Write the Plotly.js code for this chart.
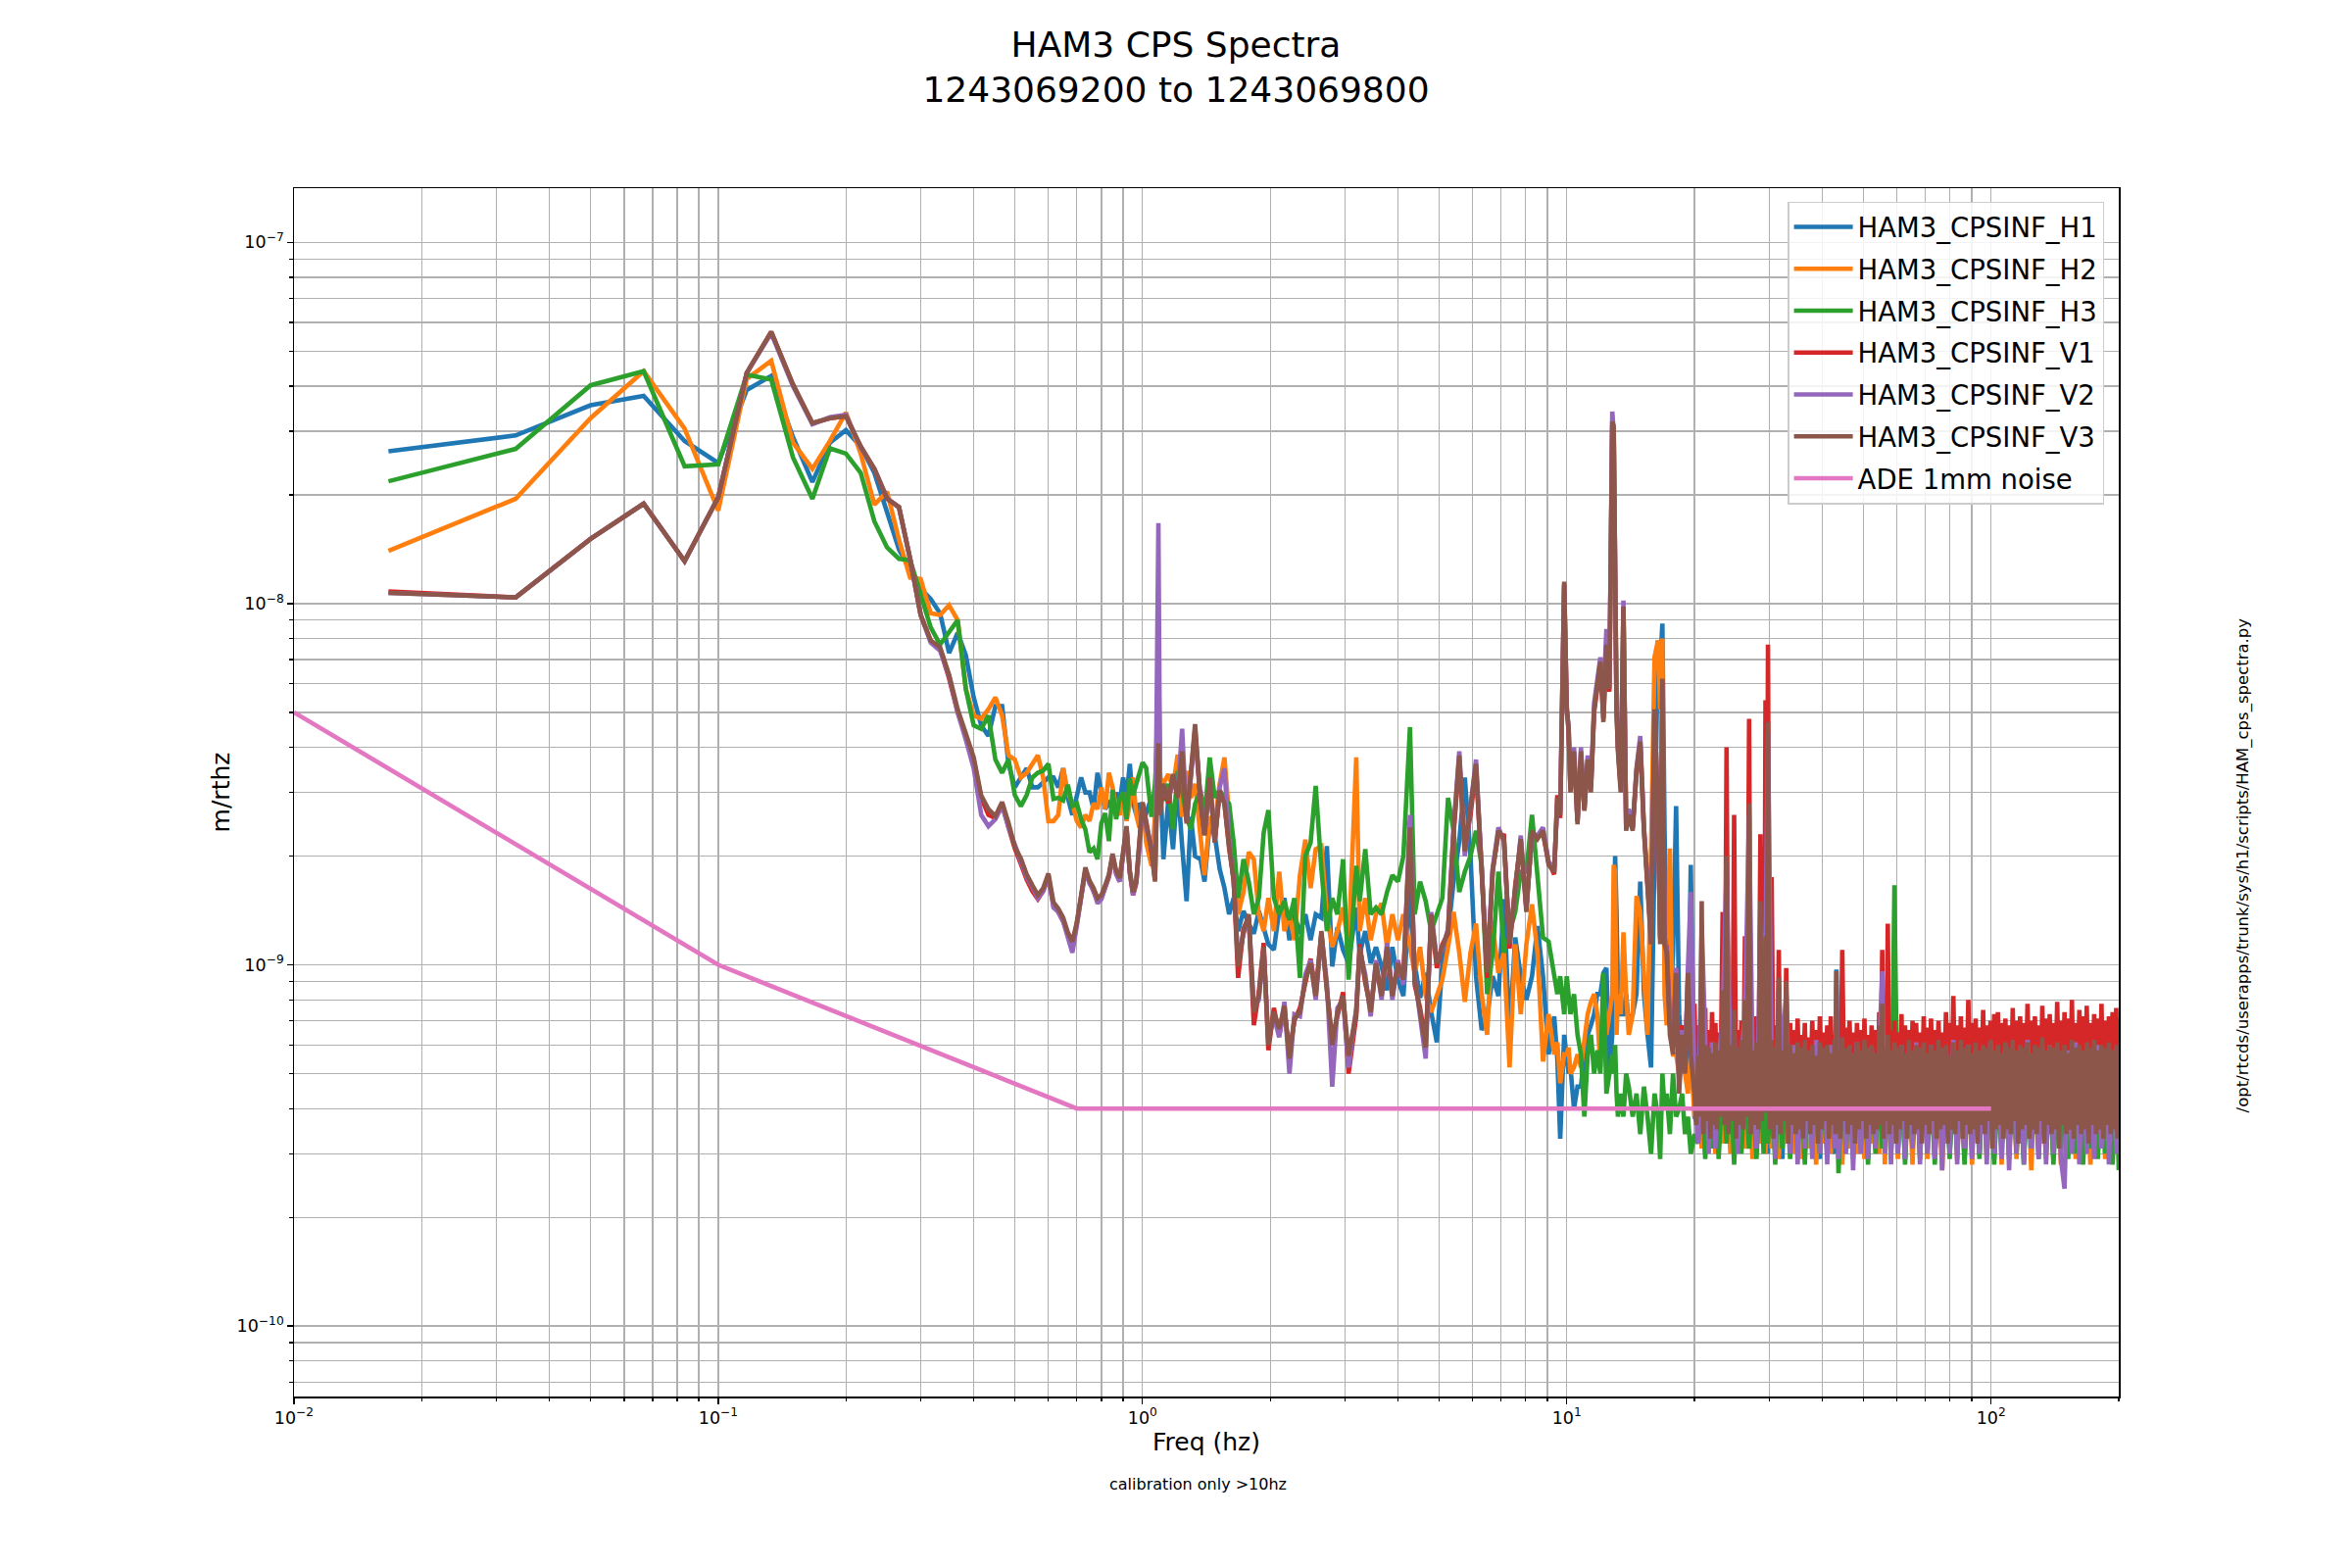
<!DOCTYPE html>
<html><head><meta charset="utf-8">
<script src="https://cdn.plot.ly/plotly-3.0.1.min.js"></script>
<style>html,body{margin:0;padding:0;background:#fff}#chart{width:2400px;height:1600px}</style>
</head><body><div id="chart"></div>
<script>
// All amplitude values are in units of 1e-10 m/rthz
const UNIT = 1e-10;

const freqLow = [0.0167,0.0333,0.05,0.0667,0.0833,0.1,0.1167,0.1333,0.15,0.1667,0.1833,0.2,0.2167,0.2333,0.25,0.2667,0.2833,0.3,0.3167,0.3333,
 0.35,0.3667,0.3833,0.4,0.4167,0.4333,0.45,0.4667,0.4833,0.5,0.5167,0.5333,0.55,0.5667,0.5833,0.6,0.6167,0.6333,0.65,0.6667,
 0.6833,0.7,0.7167,0.7333,0.75,0.7667,0.7833,0.8,0.8167,0.8333,0.85,0.8667,0.8833,0.9,0.9167,0.9333,0.95,0.9667,0.9833,1.0];

const freqMid = [1.02,1.05,1.07,1.09,1.10,1.12,1.15,1.18,1.21,1.24,1.27,1.30,1.33,1.37,1.40,1.44,1.48,1.52,1.56,1.60,1.64,1.68,1.73,1.78,1.83,1.88,1.93,1.98,
 2.04,2.10,2.16,2.22,2.28,2.35,2.42,2.49,2.56,2.64,2.72,2.80,2.88,2.97,3.06,3.19,3.25,3.35,3.45,3.55,3.66,3.77,3.88,4.00,4.12,4.27,4.38,4.51,4.65,4.79,4.94,
 5.09,5.25,5.41,5.58,5.75,5.93,6.11,6.30,6.49,6.69,6.90,7.11,7.33,7.56,7.79,8.03,8.28,8.53,8.79,9.06,9.34,9.50,9.65,9.86,
 10.0,10.1,10.2,10.4,10.6,10.8,11.0,11.2,11.4,11.6,11.8,12.0,12.2,12.4,12.6,12.8,12.9,13.0,13.1,13.2,13.4,13.6,13.8,14.0,14.3,14.6,14.9,15.2,15.5,15.8,16.1,16.4,16.6,16.8,17.0,17.2,17.5,17.8,18.1,18.4,18.7,19.0,19.3,19.6,20.0];

const freqHigh = [20.4,20.8,21.2,21.6,22.0,22.4,22.8,23.3,23.8,24.3, 24.8,25.3,25.8,26.3,26.9,27.4,28.0,28.6,29.1,29.4,
 29.8,30.4,31.0,31.6,32.2,32.9,33.6,34.3,35.0,35.7, 36.4,37.1,37.9,38.7,39.5,40.3,41.1,41.9,42.8,43.2,
 43.7,44.6,45.5,46.4,47.3,48.3,49.3,50.3,51.3,52.3, 53.4,54.5,55.4,56.2,57.1,58.1,59.2,60.3,61.5,62.7,
 64.0,65.3,66.6,68.0,69.4,70.8,72.2,73.7,75.2,76.7, 78.3,79.9,81.5,83.2,84.9,86.6,88.4,90.2,92.0,93.9,
 95.8,97.7,99.7,101.7,103.8,105.9,108.1,110.3,112.5,114.8, 117.1,119.5,121.9,124.4,126.9,129.5,132.1,134.8,137.5,140.3,
 143.2,146.1,149.0,152.0,155.1,158.3,161.5,164.8,168.1,171.5, 175.0,178.5,182.1,185.8,189.6,193.4,197.3,200.0];

// finer frequency grid above 20 Hz used for the V1 and V3 channels
const freqHighDense = [20.2,20.4,20.6,20.8,21.0,21.2,21.4,21.6,21.8,22.0,22.2,22.4,22.6,22.8,23.05,23.3,23.55,23.8,24.05,24.3,
 24.55,24.8,25.05,25.3,25.55,25.8,26.05,26.3,26.6,26.9,27.15,27.4,27.7,28.0,28.3,28.6,28.85,29.1,29.25,29.4,
 29.6,29.8,30.1,30.4,30.7,31.0,31.3,31.6,31.9,32.2,32.55,32.9,33.25,33.6,33.95,34.3,34.65,35.0,35.35,35.7,
 36.05,36.4,36.75,37.1,37.5,37.9,38.3,38.7,39.1,39.5,39.9,40.3,40.7,41.1,41.5,41.9,42.35,42.8,43.0,43.2,
 43.45,43.7,44.15,44.6,45.05,45.5,45.95,46.4,46.85,47.3,47.8,48.3,48.8,49.3,49.8,50.3,50.8,51.3,51.8,52.3,
 52.85,53.4,53.95,54.5,54.95,55.4,55.8,56.2,56.65,57.1,57.6,58.1,58.65,59.2,59.75,60.3,60.9,61.5,62.1,62.7,
 63.35,64.0,64.65,65.3,65.95,66.6,67.3,68.0,68.7,69.4,70.1,70.8,71.5,72.2,72.95,73.7,74.45,75.2,75.95,76.7,
 77.5,78.3,79.1,79.9,80.7,81.5,82.35,83.2,84.05,84.9,85.75,86.6,87.5,88.4,89.3,90.2,91.1,92.0,92.95,93.9,
 94.85,95.8,96.75,97.7,98.7,99.7,100.7,101.7,102.75,103.8,104.85,105.9,107.0,108.1,109.2,110.3,111.4,112.5,113.65,114.8,
 115.95,117.1,118.3,119.5,120.7,121.9,123.15,124.4,125.65,126.9,128.2,129.5,130.8,132.1,133.45,134.8,136.15,137.5,138.9,140.3,
 141.75,143.2,144.65,146.1,147.55,149.0,150.5,152.0,153.55,155.1,156.7,158.3,159.9,161.5,163.15,164.8,166.45,168.1,169.8,171.5,
 173.25,175.0,176.75,178.5,180.3,182.1,183.95,185.8,187.7,189.6,191.5,193.4,195.35,197.3,198.65,200.0];

// HAM3_CPSINF_H1
const h1Low = [264,292,354,376,282,245,390,427,289,217,279,302,272,230,179,141,124,110,103,94,73,83,
 72,55,46,43,52,52,36,31,33,35,31,31,32,33,33,31,35,29,26,29,33,30,30,27,34,30,27,28,27,30,28,33,29,36,28,26,28,27];
const h1Mid = [26.3,29.1,25.7,72.8,34.4,19.6,28.5,20.9,31.7,21.3,15,25.7,20,19.6,17,24.6,22.8,18.4,16.3,13.8,15.3,12.4,14.1,13,12.2,14.1,12.7,11.4,
 11,14.1,15.3,11.7,13.8,12.2,13.8,11.7,13.8,13.5,21.3,9.9,12.7,11,10.1,14.4,10.7,12.4,10.1,11.2,9.9,8.5,11.2,9.1,8.2,16,10.1,8.1,9.5,7.4,6.1,
 10.1,12.2,17,22,33,20,9.3,6.6,7.2,9.3,8.2,15.2,6.4,11.9,9.3,8.0,9.3,12.8,9.3,5.65,7.2,5.5,3.3,6.4,
 5.65,5.0,5.2,4.0,4.6,4.6,5.65,6.4,6.8,7.3,8.3,8.3,9.5,9.8,5.0,6.4,10.8,20,14,8.3,7.3,7.3,8.3,6.8,7.3,8.3,17,8.3,6.4,5.2,20.6,79,66,88,23.5,10.8,7.3,10.8,27.5,7.3,5.65,6.4,5.0,18.9,3.8];
const h1High = [3.6,4.8,3.0,5.0,3.3,4.6,3.1,4.9,3.4,5.1, 3.0,4.7,3.2,5.0,3.5,4.6,3.1,4.9,3.3,4.5,
 3.0,5.2,3.2,4.8,2.9,5.0,3.4,4.7,3.1,5.1, 3.0,4.6,3.3,4.9,2.9,5.0,3.2,4.7,3.0,9.7,
 3.1,4.8,3.3,5.0,3.0,4.6,3.2,4.9,2.9,5.1, 3.1,4.7,3.4,4.8,8.4,3.0,5.0,3.2,4.7,2.9,
 4.9,3.1,5.0,3.0,4.6,3.3,4.9,2.9,5.1,3.1, 4.8,3.0,4.7,3.2,5.0,2.9,4.8,3.1,4.6,3.0,
 5.0,3.2,4.8,2.9,4.9,3.1,4.7,3.0,5.0,3.2, 4.8,2.9,4.6,3.1,5.0,3.0,4.8,3.2,4.7,2.9,
 5.0,3.1,4.8,3.0,4.6,3.2,4.9,2.9,4.8,3.1, 5.0,3.0,4.7,3.1,4.9,3.0,4.6,3.2];

// HAM3_CPSINF_H2
const h2Low = [140,195,326,440,305,181,419,470,279,236,282,338,260,188,204,150,118,117,94,93,99,90,
 58,49,48,51,55,49,38,37,33,34,36,38,33,25,25,26,35,30,28,25,24,26,25,28,27,31,27,34,31,27,26,30,25,28,33,26,24,28];
const h2Mid = [21.8,18.8,25.7,28.5,33,31.7,33.7,31,38.2,25.7,34.4,29,31.7,21.8,17.7,25.7,24.6,31.7,37.5,25.7,20.9,13.8,15.9,20.5,19.6,13.8,12.4,15.3,
 12.4,18.1,12.4,13.8,11.7,17.7,22.2,16.3,20.9,21.3,13.8,11.2,12.4,14.4,11.2,37.5,12.4,15.3,11.7,13.8,14.8,11.2,13.8,11.7,13.8,11.2,9.5,11.2,8.2,7.4,8.2,
 9.1,11.2,14,10.8,7.9,10.8,13,8.3,6.4,12.8,9.5,10.8,5.2,11.4,7.3,11.4,14.7,10.8,5.4,7.3,5.65,6.1,4.7,5.65,
 5.65,5.9,5.0,5.2,5.65,5.2,6.1,7.3,7.9,8.3,7.3,5.2,8.3,6.4,7.3,8.3,18.9,18.1,6.4,8.3,7.3,12.3,8.3,6.4,7.3,15.5,14,9.5,6.4,20.6,71,79,51,80,8.3,6.8,21,5.65,5.65,5.0,5.65,5.0,4.4,5.65,3.8];
const h2High = [4.8,3.1,5.0,3.3,4.6,3.0,4.9,3.2,5.1,3.0, 4.7,3.4,5.0,3.1,4.8,2.9,5.1,3.2,4.6,3.0,
 4.9,3.1,5.0,2.9,4.7,3.2,4.9,3.0,5.1,2.9, 4.8,3.1,5.0,2.8,4.7,3.2,4.9,3.0,5.0,3.1,
 4.6,2.8,5.0,3.1,4.8,3.0,5.1,2.9,4.7,3.2, 4.9,3.0,5.0,2.8,4.8,3.1,5.0,2.9,4.7,3.1,
 4.9,2.8,5.0,3.0,4.8,2.9,5.1,3.0,4.6,2.7, 4.9,3.1,5.0,2.9,4.8,3.0,4.7,2.8,5.0,3.1,
 4.9,2.9,4.8,3.0,5.0,2.8,4.7,3.1,4.9,2.9, 5.0,3.0,4.8,2.7,4.9,3.1,5.0,2.9,4.7,3.0,
 4.9,2.8,5.0,3.1,4.8,2.9,4.9,3.0,4.7,2.8, 5.0,3.1,4.8,2.9,4.9,3.0,4.7,3.1];

// HAM3_CPSINF_H3
const h3Low = [218,268,402,440,240,243,430,417,254,195,269,260,230,169,143,133,132,105,86,77,83.5,90,
 58,46,45,49,37,34,37,29.5,27.5,29.5,33,34,34.5,36,28.8,29,28.5,31.5,27.5,28,25.3,23.7,20.5,21,19.6,24.7,26.3,22,30.5,25.3,28.8,30,25.3,32.8,29.5,31.5,34.3,36.3];
const h3Mid = [35.1,25.7,31.7,47,30.4,28.5,31.7,23.7,34.4,30.4,25.7,23.7,27.9,30.4,25.7,37.5,29,30.4,29,27.9,21.8,15.3,19.6,17,13.8,15.3,23.2,26.8,
 15.3,13.8,15,13.3,15.3,9.2,20,21.8,31.3,18.4,12.4,15.3,13.8,19.6,9.1,18.8,15,20.9,13.8,14.4,13.8,15.9,17.7,17,20,45.5,13.8,17,15,12.4,13.8,
 15.3,29,23.5,15.9,18.1,20,23.5,18.9,8.3,10.8,18.1,10.8,12.3,14,18.1,18.1,26,18.1,11.9,11.6,9.5,8.3,9.3,7.3,
 9.3,8.3,7.3,8.3,6.4,5.65,3.8,5.65,6.4,5.0,5.8,5.0,9.5,4.4,5.0,5.65,5.0,6.0,4.4,3.8,4.4,3.8,5.0,4.6,3.8,4.4,3.4,4.6,3.8,3.0,4.4,3.8,2.9,5.0,4.0,4.4,3.4,5.0,3.8,4.0,4.4,3.4,3.8,3.0,3.4];
const h3High = [3.2,4.9,2.9,5.0,3.1,4.6,2.9,4.8,3.2,5.0, 2.8,4.7,3.0,4.9,3.1,4.6,2.9,5.0,3.0,4.8,
 3.2,4.7,2.8,5.0,3.1,4.8,2.9,4.9,3.0,4.7, 2.8,5.0,3.1,4.8,3.0,4.6,2.9,5.0,3.1,4.8,
 2.65,4.9,3.0,4.7,2.9,5.0,3.1,4.6,2.8,4.9, 3.0,4.8,3.1,4.7,5.2,2.9,16.6,3.0,4.9,2.8,
 4.7,3.1,5.0,2.9,4.8,3.0,4.6,2.8,4.9,3.1, 4.7,2.9,5.0,3.0,4.8,2.8,4.9,3.1,4.6,2.9,
 5.0,3.0,4.8,2.8,4.7,3.1,4.9,2.9,4.8,3.0, 4.6,2.8,5.0,3.1,4.7,2.9,4.9,3.0,4.8,2.8,
 4.6,3.1,4.9,2.9,4.8,3.0,4.7,2.8,5.0,3.1, 4.8,2.9,4.9,3.0,4.7,2.8,4.9,2.7];

// HAM3_CPSINF_V1
const v1Low = [108,104,151,189,131,197,435,565,404,316,326,330,272,236,195,185,133,93,79,75,62,50,
 43,37,29,26,25.5,28,24,21,19,17.2,16,15.2,16,17.5,14.6,14,13.2,12,11.2,13,15.4,18.2,17,16,15,15.3,16.3,17.5,20,18,17,20,23.8,18,15.6,16.8,21,28];
const v1Mid = [25,20.5,17.2,45,27,31,28,33,29.5,38,25,34,45,28,23,32.5,22,30,28,21,17.3,9.2,12.6,13.5,6.8,8.4,11.5,5.8,
 7.6,6.4,7.5,5.7,7.0,7.6,8.9,10.4,8.4,12.2,8.5,6.2,7.2,8.4,5.0,7.2,11.4,8.9,7.6,9.8,8.4,11.0,8.5,9.8,9.3,25,8.8,7.6,6.1,13.5,9.8,
 11.4,12.2,23,37,21,26,35,18.5,9.2,18.4,23,22.8,11.1,16.6,22,14.4,23,22.6,23,19.3,17.8,29.5,25.5,113,
 52,44,31,38,25,38,27,36,31,50,60,68,48,76,57,310,300,74,50,40,31,96,24,25.5,24,34,41,24,16.3,11.8,50,27,11.8,61,11.8,11.2,6.8,6.0,9.8,4.8,6.8,5.3,9.2,6.2,7.8];
const v1HighDense = [4.4,6.8, 4.2,7.0, 4.6,7.6, 4.1,6.6, 4.5,7.4, 4.0,6.9, 4.4,6.5, 4.7,14, 4.3,40, 4.6,6.8,
 4.2,26, 4.5,6.6, 4.1,7.0, 4.4,12, 4.8,48, 4.3,6.7, 4.6,7.2, 4.2,23, 5.0,20, 8.0,54,
 6.0,77, 4.8,17.5, 4.4,6.8, 4.1,11, 4.5,6.5, 4.3,9.8, 4.6,6.9, 4.0,6.6, 4.4,7.1, 4.2,6.4,
 4.7,6.9, 4.1,6.3, 4.5,7.0, 4.3,6.6, 4.6,7.2, 4.0,6.5, 4.4,6.8, 4.2,7.2, 4.5,6.4, 4.1,6.9,
 4.6,6.6, 4.3,11, 4.5,6.7, 4.1,7.0, 4.4,6.5, 4.2,6.9, 4.6,6.6, 4.0,7.1, 4.4,6.4, 4.3,6.8,
 4.5,6.6, 4.1,7.4, 4.6,11, 4.2,6.7, 4.4,13, 4.3,6.6, 4.6,7.0, 4.1,6.5, 4.5,7.3, 4.2,6.8,
 4.4,6.6, 4.0,7.0, 4.6,6.9, 4.3,6.5, 4.5,7.2, 4.1,6.7, 4.4,7.1, 4.2,6.6, 4.6,7.0, 4.3,6.5,
 4.5,7.4, 4.1,6.9, 4.4,8.2, 4.2,6.8, 4.6,7.2, 4.3,6.7, 4.5,8.0, 4.1,6.9, 4.4,7.1, 4.2,6.7,
 4.6,7.5, 4.3,6.8, 4.5,7.0, 4.0,7.3, 4.4,7.4, 4.2,6.9, 4.6,7.1, 4.3,6.8, 4.5,7.6, 4.1,7.0,
 4.4,7.2, 4.2,6.9, 4.6,7.8, 4.3,7.0, 4.5,7.2, 4.1,6.8, 4.4,7.7, 4.2,7.1, 4.6,7.3, 4.3,6.9,
 4.5,7.9, 4.1,7.0, 4.4,7.4, 4.2,7.1, 4.6,8.0, 4.3,6.9, 4.5,7.5, 4.1,7.2, 4.4,7.7, 4.2,6.9,
 4.6,7.3, 4.3,7.1, 4.5,7.8, 4.1,7.0, 4.4,7.2, 4.2,7.4, 4.6,7.6, 4.3,7.1];

// HAM3_CPSINF_V2
const v2Low = [107,104,151,189,131,197,435,560,400,314,328,333,270,236,196,184,133,93,78,74,63,50,
 42,35,26,24.2,25.3,27.5,24,21.5,19.5,17.5,16.4,15.3,16,17.6,14.4,14,13.2,12,10.8,12.8,15.4,18.3,16.8,16.1,14.8,15.2,16.4,17.6,20,17.8,17,20.1,24,18,15.6,17,21,28];
const v2Mid = [24,21,17.5,167,30,30,29,32,30,45,25,33,44,29,23,32,22,31,35,22,17,10.2,12.2,13.5,7.6,8.0,11,6.2,
 7.2,6.3,7.9,5.0,7.3,7.2,9.4,10.3,8.0,12.1,8.9,4.6,7.6,8.0,5.2,7.6,11,9.4,7.2,10.3,8.0,11.5,8.0,10.3,8.8,26,9.3,7.2,5.5,14,10.3,
 11,12.6,24,39,20,27,37,18.5,9.8,18.5,24,22,11.8,16,22.8,14.3,23,22.8,24,19.3,18.5,28,26.5,112,
 50,46,31,40,25,40,27,38,31,53,63,71,55,85,60,340,300,78,52,40,31,102,24,27,24,35,43,24,16,12,50,27,12,60,12,11,6.8,5.9,9.8,4.6,6.6,5.2,9.8,15.9,4.6];
const v2High = [3.2,13,5.8,3.0,6.1,3.1,5.5,7.0,19,5.4, 6.8,3.0,5.6,7.2,26,5.5,3.1,13,9,11,
 44,5.2,2.9,8.5,5.6,8.4,3.0,6.0,2.8,5.9, 3.1,5.4,2.9,6.2,3.0,5.6,2.8,6.0,3.1,8.8,
 2.9,5.8,3.0,5.5,2.7,6.1,3.0,5.6,2.9,5.9, 3.1,6.2,9.6,3.0,5.8,2.8,5.6,3.0,6.0,2.9,
 5.5,3.1,6.1,2.8,5.7,3.0,6.0,2.9,5.4,2.7, 5.9,3.0,6.2,2.8,5.6,3.1,6.0,2.9,5.8,3.0,
 5.5,2.8,6.1,3.0,5.7,2.9,6.0,2.7,5.8,3.0, 5.6,2.8,6.2,3.1,5.9,2.9,5.5,2.8,6.0,3.0,
 5.7,2.9,2.4,5.8,3.0,6.1,2.8,5.6,3.0,5.9, 2.9,6.0,3.1,5.5,2.8,5.8,3.0,5.6];

// HAM3_CPSINF_V3
const v3Low = [107,104,151,189,131,197,435,565,404,316,326,330,272,236,195,185,133,93,79,75.7,63.5,51,
 43.7,37.5,29.4,27,25.8,28.2,24.7,21.2,19.7,17.8,16.6,15.6,16.3,17.9,14.9,14.3,13.5,12.3,11.6,13.1,15.6,18.6,17.1,16.3,15.3,15.6,16.6,17.8,20.3,18.2,17.4,20.3,24.2,18.2,15.9,17.1,21.2,28.2];
const v3Mid = [24.6,20.9,17,41,26,31.7,28.5,33.7,29,39,24.6,34.4,46.4,28.5,22.8,33,21.8,30.4,27.9,21.3,17,9.9,12.4,13.8,7.4,8.2,11.2,6.0,
 7.4,6.65,7.7,5.5,7.1,7.4,9.1,10.1,8.2,12.4,8.7,6.0,7.4,8.2,5.6,7.4,11.2,9.1,7.4,10.1,8.2,11.2,8.2,10.1,9.1,24,9.1,7.4,5.9,13.8,10.1,
 11.2,12.4,23.5,38,20.6,26.7,36,18.1,9.5,18.1,23.5,22.3,11.4,16.3,22.3,14,23.5,22.3,23.5,18.9,18.1,29,26,115,
 51,45,30,39,24.5,39,26.7,37,30,51,61,69,47,77,58,319,310,75,51,39,30,98,23.5,26,23.5,34.6,41.5,23.5,15.9,11.4,51,26.7,11.4,62,11.4,10.8,6.4,5.65,9.5,4.4,6.4,5.0,9.5,5.65,4.4];
const v3HighDense = [3.6,5.6, 3.8,15, 3.4,6.0, 3.7,5.9, 3.3,5.7, 3.6,6.1, 3.5,5.8, 3.8,8.5, 3.6,20, 3.4,6.0,
 3.7,7.5, 3.3,5.9, 3.6,6.2, 3.5,8.0, 3.8,28, 3.4,5.8, 3.6,6.1, 3.5,15, 3.7,10, 6.0,12,
 3.9,47, 3.5,6.2, 3.3,5.9, 3.6,9.2, 3.4,5.8, 3.7,9.0, 3.2,6.0, 3.6,5.7, 3.4,6.1, 3.5,5.9,
 3.3,6.2, 3.7,5.8, 3.4,6.0, 3.6,5.6, 3.2,6.1, 3.5,5.9, 3.7,6.0, 3.3,5.7, 3.6,6.2, 3.4,9.6,
 3.5,5.8, 3.3,6.3, 3.7,5.9, 3.4,6.0, 3.6,5.7, 3.2,6.1, 3.5,5.8, 3.7,6.2, 3.3,5.9, 3.6,6.0,
 3.4,5.7, 3.5,6.8, 3.6,7.8, 3.3,5.9, 3.7,6.4, 3.4,5.8, 3.6,6.1, 3.2,5.9, 3.5,6.0, 3.7,5.7,
 3.3,6.2, 3.6,5.8, 3.4,6.0, 3.5,5.9, 3.2,6.1, 3.6,5.7, 3.4,6.0, 3.7,5.8, 3.3,6.2, 3.5,5.9,
 3.6,6.0, 3.2,5.6, 3.5,6.1, 3.4,5.8, 3.7,6.2, 3.3,5.9, 3.6,6.0, 3.4,5.7, 3.5,6.1, 3.2,5.8,
 3.6,6.0, 3.4,5.9, 3.7,6.2, 3.1,5.8, 3.5,6.0, 3.6,5.7, 3.3,6.1, 3.5,5.9, 3.4,6.2, 3.7,5.8,
 3.2,6.0, 3.5,5.9, 3.6,6.1, 3.3,5.7, 3.5,6.0, 3.4,5.9, 3.7,6.3, 3.2,5.8, 3.6,6.0, 3.4,5.9,
 3.5,6.1, 3.1,5.8, 3.6,6.0, 3.4,5.7, 3.5,6.2, 3.3,5.9, 3.6,6.0, 3.4,5.8, 3.5,6.1, 3.2,5.9,
 3.6,6.2, 3.4,5.8, 3.5,6.0, 3.3,5.9, 3.6,6.1, 3.4,5.8, 3.5,6.0, 3.3,5.9];

// ADE 1mm noise
const adeFreq = [0.01, 0.1, 0.7, 100];
const adeVals = [50, 10, 4, 4];

const seriesNames = ['HAM3_CPSINF_H1','HAM3_CPSINF_H2','HAM3_CPSINF_H3','HAM3_CPSINF_V1','HAM3_CPSINF_V2','HAM3_CPSINF_V3'];
const seriesColors = ['#1f77b4','#ff7f0e','#2ca02c','#d62728','#9467bd','#8c564b'];
const freqStd = freqLow.concat(freqMid, freqHigh);
const freqDense = freqLow.concat(freqMid, freqHighDense);
const seriesX = [freqStd, freqStd, freqStd, freqDense, freqStd, freqDense];
const seriesParts = [[h1Low,h1Mid,h1High],[h2Low,h2Mid,h2High],[h3Low,h3Mid,h3High],[v1Low,v1Mid,v1HighDense],[v2Low,v2Mid,v2High],[v3Low,v3Mid,v3HighDense]];

const FONT = 'DejaVu Sans, Verdana, sans-serif';
const LW = 4.6;

const traces = seriesNames.map((nm, i) => ({
  x: seriesX[i],
  y: seriesParts[i][0].concat(seriesParts[i][1], seriesParts[i][2]).map(v => v * UNIT),
  type: 'scatter', mode: 'lines', name: nm, legendgroup: nm,
  line: {color: seriesColors[i], width: LW}
}));
traces.push({
  x: adeFreq, y: adeVals.map(v => v * UNIT), type: 'scatter', mode: 'lines',
  name: 'ADE 1mm noise', legendgroup: 'ade', line: {color: '#e377c2', width: LW}
});

const gridCol = '#b0b0b0';
const axisCommon = {
  type: 'log', dtick: 1, exponentformat: 'power', showexponent: 'all',
  showgrid: true, gridcolor: gridCol, gridwidth: 1.3,
  showline: true, linecolor: '#000', linewidth: 1.5, mirror: true,
  ticks: 'outside', ticklen: 6, tickwidth: 1.3, tickcolor: '#000',
  tickfont: {family: FONT, size: 14, color: '#000'},
  minor: {dtick: 'D1', showgrid: true, gridcolor: gridCol, gridwidth: 1.3, ticks: 'outside', ticklen: 3.5, tickcolor: '#000'},
  zeroline: false
};

const layout = {
  width: 2400, height: 1600,
  paper_bgcolor: '#fff', plot_bgcolor: '#fff',
  margin: {l: 300, r: 238, t: 192, b: 175},
  font: {family: FONT, color: '#000'},
  title: {text: 'HAM3 CPS Spectra<br>1243069200 to 1243069800', font: {family: FONT, size: 36, color: '#000'},
          x: 0.5, xref: 'container', y: 0.964, yref: 'container', yanchor: 'top'},
  xaxis: Object.assign({}, axisCommon, {range: [-2, 2.30103],
          labelalias: {'1': '10<sup>0</sup>', '10': '10<sup>1</sup>'},
          title: {text: 'Freq (hz)', font: {family: FONT, size: 25}, standoff: 0}}),
  yaxis: Object.assign({}, axisCommon, {range: [-10.195, -6.85],
          title: {text: 'm/rthz', font: {family: FONT, size: 25}, standoff: 0}}),
  showlegend: true,
  legend: {x: 0.992, xanchor: 'right', y: 0.989, yanchor: 'top',
           bgcolor: 'rgba(255,255,255,0.85)', bordercolor: '#cccccc', borderwidth: 1.5,
           font: {family: FONT, size: 27.5, color: '#000'}, tracegroupgap: 4, itemwidth: 60},
  annotations: [
    {text: 'calibration only >10hz', xref: 'paper', yref: 'paper', x: 0.4952, y: -0.0722,
     xanchor: 'center', yanchor: 'middle', showarrow: false, font: {family: FONT, size: 16, color: '#000'}},
    {text: '/opt/rtcds/userapps/trunk/sys/h1/scripts/HAM_cps_spectra.py', xref: 'paper', yref: 'paper',
     x: 1.0687, y: 0.440, xanchor: 'center', yanchor: 'middle', textangle: -90, showarrow: false,
     font: {family: FONT, size: 16.5, color: '#000'}}
  ]
};

Plotly.newPlot('chart', traces, layout, {displayModeBar: false, staticPlot: true});
</script>
</body></html>
